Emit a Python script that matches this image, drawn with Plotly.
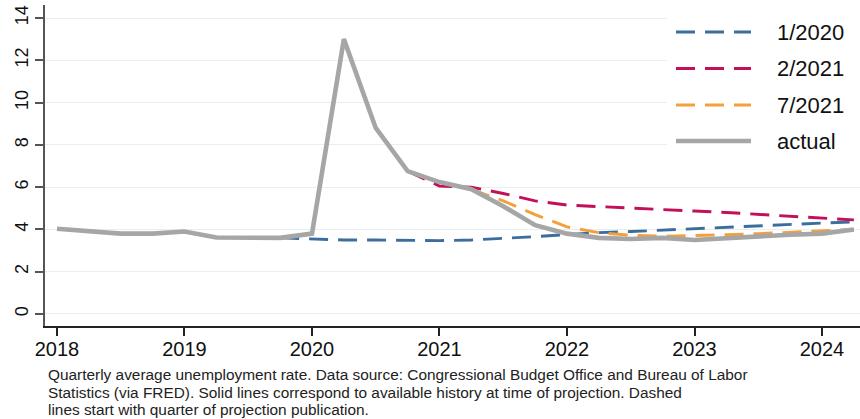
import plotly.graph_objects as go

# Quarterly time axis (decimal years)
actual_x = [2018.0, 2018.25, 2018.5, 2018.75, 2019.0, 2019.25, 2019.5, 2019.75,
            2020.0, 2020.25, 2020.5, 2020.75, 2021.0, 2021.25, 2021.5, 2021.75,
            2022.0, 2022.25, 2022.5, 2022.75, 2023.0, 2023.25, 2023.5, 2023.75,
            2024.0, 2024.25]
actual_y = [4.03, 3.9, 3.8, 3.8, 3.9, 3.62, 3.6, 3.6,
            3.8, 13.0, 8.8, 6.76, 6.24, 5.9, 5.1, 4.2,
            3.8, 3.6, 3.55, 3.6, 3.5, 3.6, 3.7, 3.75,
            3.8, 4.0]

proj_2020_x = [2019.75, 2020.0, 2020.25, 2020.5, 2020.75, 2021.0, 2021.25, 2021.5,
               2021.75, 2022.0, 2022.25, 2022.5, 2022.75, 2023.0, 2023.25, 2023.5,
               2023.75, 2024.0, 2024.25]
proj_2020_y = [3.6, 3.55, 3.5, 3.5, 3.47, 3.47, 3.5, 3.57,
               3.66, 3.76, 3.85, 3.9, 3.97, 4.05, 4.12, 4.18,
               4.24, 4.3, 4.35]

proj_2021a_x = [2020.75, 2021.0, 2021.25, 2021.5, 2021.75, 2022.0, 2022.25, 2022.5,
                2022.75, 2023.0, 2023.25, 2023.5, 2023.75, 2024.0, 2024.25]
proj_2021a_y = [6.76, 6.05, 6.0, 5.7, 5.35, 5.15, 5.08, 5.0,
                4.92, 4.87, 4.8, 4.72, 4.63, 4.55, 4.45]

proj_2021b_x = [2021.25, 2021.5, 2021.75, 2022.0, 2022.25, 2022.5, 2022.75, 2023.0,
                2023.25, 2023.5, 2023.75, 2024.0, 2024.25]
proj_2021b_y = [5.9, 5.35, 4.7, 4.12, 3.85, 3.72, 3.68, 3.7,
                3.75, 3.8, 3.87, 3.93, 4.0]

year_ticks = [2018, 2019, 2020, 2021, 2022, 2023, 2024]
rate_ticks = [0, 2, 4, 6, 8, 10, 12, 14]

series_names = ["1/2020", "2/2021", "7/2021", "actual"]
series_colors = ["#3b6e9c", "#c2105a", "#f2a03c", "#a6a6a6"]

caption_lines = [
    "Quarterly average unemployment rate. Data source: Congressional Budget Office and Bureau of Labor",
    "Statistics (via FRED). Solid lines correspond to available history at time of projection. Dashed",
    "lines start with quarter of projection publication.",
]

FONT = "Liberation Sans, Arial, Helvetica, sans-serif"
DASH = "19px,10px"
DASH_W = 2.9
SOLID_W = 4.6

fig = go.Figure()
proj = [(proj_2020_x, proj_2020_y), (proj_2021a_x, proj_2021a_y), (proj_2021b_x, proj_2021b_y)]
for (xs, ys), name, color in zip(proj, series_names[:3], series_colors[:3]):
    fig.add_trace(go.Scatter(x=xs, y=ys, mode="lines", name=name,
                             line=dict(color=color, width=DASH_W, dash=DASH),
                             showlegend=False))
fig.add_trace(go.Scatter(x=actual_x, y=actual_y, mode="lines", name="actual",
                         line=dict(color=series_colors[3], width=SOLID_W),
                         showlegend=False))

# Plot area geometry in pixels (used for the hand-drawn legend and caption)
L, T, W, H = 45, 5, 815, 321
def px(x):
    return (x - L) / W
def py(y):
    return (T + H - y) / H

shapes = [dict(type="rect", xref="paper", yref="paper", x0=px(667), x1=1.0,
               y0=py(168), y1=1.0, fillcolor="white", line=dict(width=0), layer="above")]
annotations = []
legend_rows = [32, 68.5, 105, 141]
for name, color, row in zip(series_names, series_colors, legend_rows):
    is_actual = name == "actual"
    shapes.append(dict(type="line", xref="paper", yref="paper",
                       x0=px(676), x1=px(751), y0=py(row), y1=py(row),
                       line=dict(color=color, width=SOLID_W if is_actual else DASH_W,
                                 dash="solid" if is_actual else DASH),
                       layer="above"))
    annotations.append(dict(xref="paper", yref="paper", x=px(775), y=py(row),
                            xanchor="left", yanchor="middle", showarrow=False,
                            text=name, font=dict(family=FONT, size=22, color="#111")))

# Caption: one annotation per line for tight leading
for i, line in enumerate(caption_lines):
    annotations.append(dict(xref="paper", yref="paper", x=px(47), y=py(374.5 + 17.5 * i),
                            xanchor="left", yanchor="middle", align="left",
                            borderpad=0, showarrow=False,
                            text=line, font=dict(family=FONT, size=15.4, color="#222")))

fig.update_layout(
    width=860, height=419,
    margin=dict(l=L, r=0, t=T, b=419 - T - H),
    paper_bgcolor="white", plot_bgcolor="white",
    font=dict(family=FONT, color="#111"),
    shapes=shapes, annotations=annotations,
    xaxis=dict(range=[2017.906, 2024.298], tickvals=year_ticks,
               ticktext=[str(v) for v in year_ticks],
               showgrid=False, zeroline=False,
               showline=True, linecolor="#222", linewidth=1.5,
               ticks="outside", ticklen=8, tickwidth=1.5, tickcolor="#222",
               ticklabelstandoff=-4,
               tickfont=dict(size=20, family=FONT, color="#111")),
    yaxis=dict(range=[-0.568, 14.615], tickvals=rate_ticks,
               ticktext=[str(v) for v in rate_ticks], tickangle=-90,
               showgrid=True, gridcolor="#e9eff0", gridwidth=1.2, zeroline=False,
               showline=True, linecolor="#555", linewidth=1.5,
               ticks="outside", ticklen=8, tickwidth=1.5, tickcolor="#555",
               tickfont=dict(size=18, family=FONT, color="#111")),
)

fig.write_html("out.html")
